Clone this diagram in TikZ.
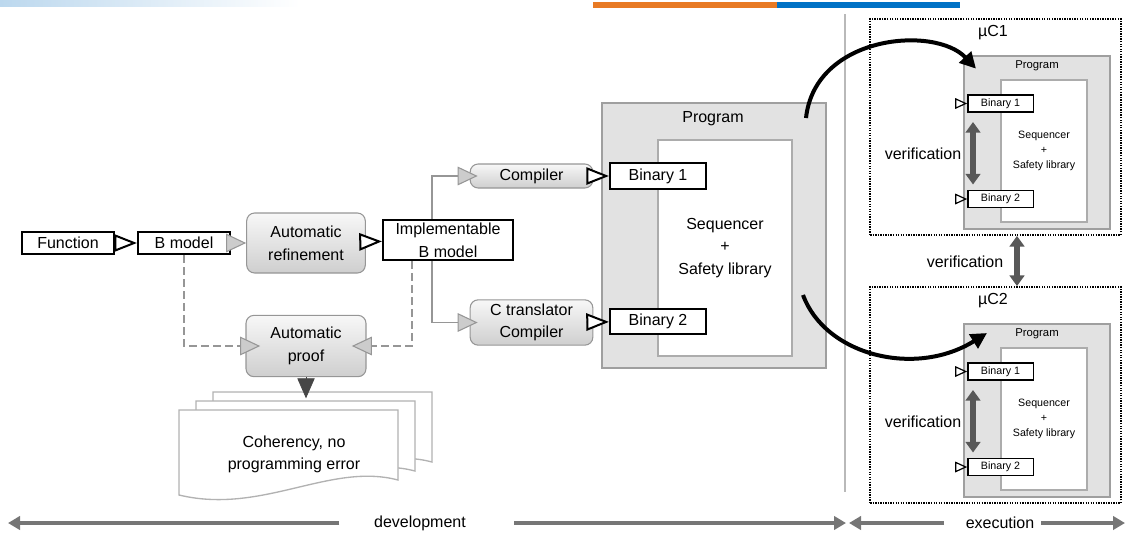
\documentclass[tikz,border=0pt]{standalone}
\usepackage{fontspec}
\setmainfont{Liberation Sans}
\usepackage{tikz}
\usetikzlibrary{arrows.meta}
\definecolor{boxline}{RGB}{150,150,150}
\definecolor{progfill}{RGB}{226,226,226}
\definecolor{verifgray}{RGB}{88,88,88}
\definecolor{timegray}{RGB}{118,118,118}
\definecolor{barorange}{RGB}{232,122,36}
\definecolor{barblue}{RGB}{0,114,198}
\definecolor{fadeblue}{RGB}{188,216,238}
\tikzset{
  blackbox/.style={draw=black,line width=1.6pt,fill=white,minimum height=16.5pt,
    inner sep=1pt,align=center},
  procbox/.style={draw=boxline,line width=0.8pt,rounded corners=6pt,top color=gray!6,
    bottom color=gray!38,align=center,inner sep=1pt},
  progbox/.style={draw=gray!75,line width=1.2pt,fill=progfill},
  seqbox/.style={draw=gray!65,line width=1pt,fill=white,align=center},
  mcbox/.style={draw=black,line width=1.4pt,dash pattern=on 1pt off 0.9pt},
  smallbox/.style={draw=black,line width=1pt,fill=white,minimum width=49pt,
    minimum height=12.75pt,inner sep=0.5pt,font=\fontsize{8}{9}\selectfont},
  openarc/.style={-{Triangle[length=17pt,width=13pt,fill=white]},line width=1.5pt,black},
  smallopenarc/.style={-{Triangle[length=9pt,width=8pt,fill=white]},line width=0.9pt,black},
  grayarc/.style={-{Triangle[length=15pt,width=14pt,fill=gray!40]},line width=0.8pt,boxline},
  dashgrayarc/.style={grayarc,dash pattern=on 6pt off 3pt},
  verifarc/.style={{Triangle[length=8pt,width=11pt]}-{Triangle[length=8pt,width=11pt]},
    line width=5pt,verifgray},
  hoparc/.style={-{Triangle[length=12pt,width=12pt]},line width=3pt,black},
  timearc/.style={-{Triangle[length=9pt,width=10pt]},line width=3.5pt,timegray},
  docsheet/.style={draw=gray!60,line width=1pt,fill=white}
}

\begin{document}
\begin{tikzpicture}[x=0.75pt,y=-0.75pt,font=\fontsize{12}{17}\selectfont]
  \useasboundingbox (0,0) rectangle (1126,536);
  \shade[left color=fadeblue,right color=white] (0,0) rectangle (300,6);
  \fill[barorange] (593,2) rectangle (777,8);
  \fill[barblue] (777,2) rectangle (960,8);
  \draw[gray!55,line width=0.8pt] (845,14) -- (845,492);

  \node[blackbox,minimum width=69pt] (func) at (68,243) {Function};
  \node[blackbox,minimum width=69pt] (bmod) at (184,243) {B model};
  \node[procbox,minimum width=89pt,minimum height=45pt] (autoref) at (306,243) {Automatic\\refinement};
  \node[blackbox,minimum width=97.5pt,minimum height=30pt] (impl) at (448,240) {Implementable\\B model};
  \node[procbox,minimum width=92pt,minimum height=18pt] (comp) at (531.5,176) {Compiler};
  \node[procbox,minimum width=92pt,minimum height=34pt] (ctrans) at (531.5,322.5) {C translator\\Compiler};
  \node[procbox,minimum width=90pt,minimum height=46pt] (autoproof) at (306,346) {Automatic\\proof};

  \node[progbox,minimum width=168pt,minimum height=199pt] (prog) at (714,235.5) {};
  \node[seqbox,minimum width=100.5pt,minimum height=162pt] (seq) at (725,248) {Sequencer\\+\\Safety library};
  \node (proglab) at (713,119) {Program};
  \node[blackbox,minimum width=72pt,minimum height=19pt] (bin1) at (658,176) {Binary 1};
  \node[blackbox,minimum width=72pt,minimum height=19pt] (bin2) at (658,321.5) {Binary 2};

  \coordinate (junc) at (432,0);
  \coordinate (dashx) at (412,0);
  \draw[openarc] (func) -- (bmod);
  \draw[grayarc] (bmod) -- (autoref);
  \draw[openarc] (autoref) -- (impl);
  \draw[grayarc,shorten >=-6pt] (impl.north -| junc) |- (comp.west);
  \draw[grayarc,shorten >=-6pt] (impl.south -| junc) |- (ctrans.west);
  \draw[openarc] (comp) -- (bin1);
  \draw[openarc] (ctrans) -- (bin2);
  \draw[dashgrayarc,shorten >=-11pt] (bmod.south) |- (autoproof.west);
  \draw[dashgrayarc,shorten >=-11pt] (impl.south -| dashx) |- (autoproof.east);

  \foreach \dx/\dy in {34/-18,17/-9,0/0}
    \draw[docsheet,shift={(\dx,\dy)}] (179,410) -- (398,410) -- (398,480)
      .. controls (330,462) and (262,515) .. (179,495) -- cycle;
  \node[align=center,font=\fontsize{12}{16.5}\selectfont] (coher) at (294,454) {Coherency, no\\programming error};
  \coordinate (sheettop) at (306,393);
  \draw[-{Triangle[length=15pt,width=13pt]},line width=0.5pt,verifgray!80!black,shorten >=-4pt]
    (autoproof.south) -- (sheettop);

  \foreach \m/\yo in {1/0,2/268}{
    \node[mcbox,minimum width=188pt,minimum height=162pt] (mc\m) at (995.5,127+\yo) {};
    \node (mc\m-lab) at (993,33+\yo) {µC\m};
    \node[progbox,minimum width=109.5pt,minimum height=130pt] (mc\m-prog) at (1037,142.5+\yo) {};
    \node[font=\fontsize{8.5}{10}\selectfont] (mc\m-proglab) at (1037,66+\yo) {Program};
    \node[seqbox,minimum width=64.5pt,minimum height=106.5pt,font=\fontsize{8}{11}\selectfont]
      (mc\m-seq) at (1044,151+\yo) {Sequencer\\+\\Safety library};
    \node[smallbox] (mc\m-b1) at (1000.5,103.5+\yo) {Binary 1};
    \node[smallbox] (mc\m-b2) at (1000.5,199+\yo) {Binary 2};
    \coordinate (mc\m-in1) at (955,103.5+\yo);
    \coordinate (mc\m-in2) at (955,199+\yo);
    \coordinate (mc\m-vx) at (973,0);
    \draw[smallopenarc] (mc\m-in1) -- (mc\m-b1);
    \draw[smallopenarc] (mc\m-in2) -- (mc\m-b2);
    \draw[verifarc,shorten <=7pt,shorten >=4pt] (mc\m-b1.south -| mc\m-vx) -- (mc\m-b2.north -| mc\m-vx);
    \node (mc\m-ver) at (923,154+\yo) {verification};
  }
  \coordinate (midvx) at (1017,0);
  \draw[verifarc] (mc1.south -| midvx) -- (mc2.north -| midvx);
  \node (midver) at (965,262) {verification};

  \coordinate (hop1s) at (806,118);
  \coordinate (hop2s) at (803,295);
  \coordinate (hop2e) at (987,333);
  \draw[hoparc,shorten >=-14pt] (hop1s) .. controls (815,35) and (935,25) .. (mc1-prog.north west);
  \draw[hoparc] (hop2s) .. controls (825,355) and (915,378) .. (hop2e);

  \node[inner sep=0pt] (dev) at (420,523) {development};
  \node[inner sep=0pt] (exe) at (1000,523) {execution};
  \coordinate (devl) at (8,523);
  \coordinate (devr) at (846,523);
  \coordinate (exel) at (849,523);
  \coordinate (exer) at (1125,523);
  \draw[timearc,shorten <=26pt] (dev.west) -- (devl);
  \draw[timearc,shorten <=36pt] (dev.east) -- (devr);
  \draw[timearc,shorten <=16pt] (exe.west) -- (exel);
  \draw[timearc,shorten <=5pt] (exe.east) -- (exer);
\end{tikzpicture}
\end{document}
